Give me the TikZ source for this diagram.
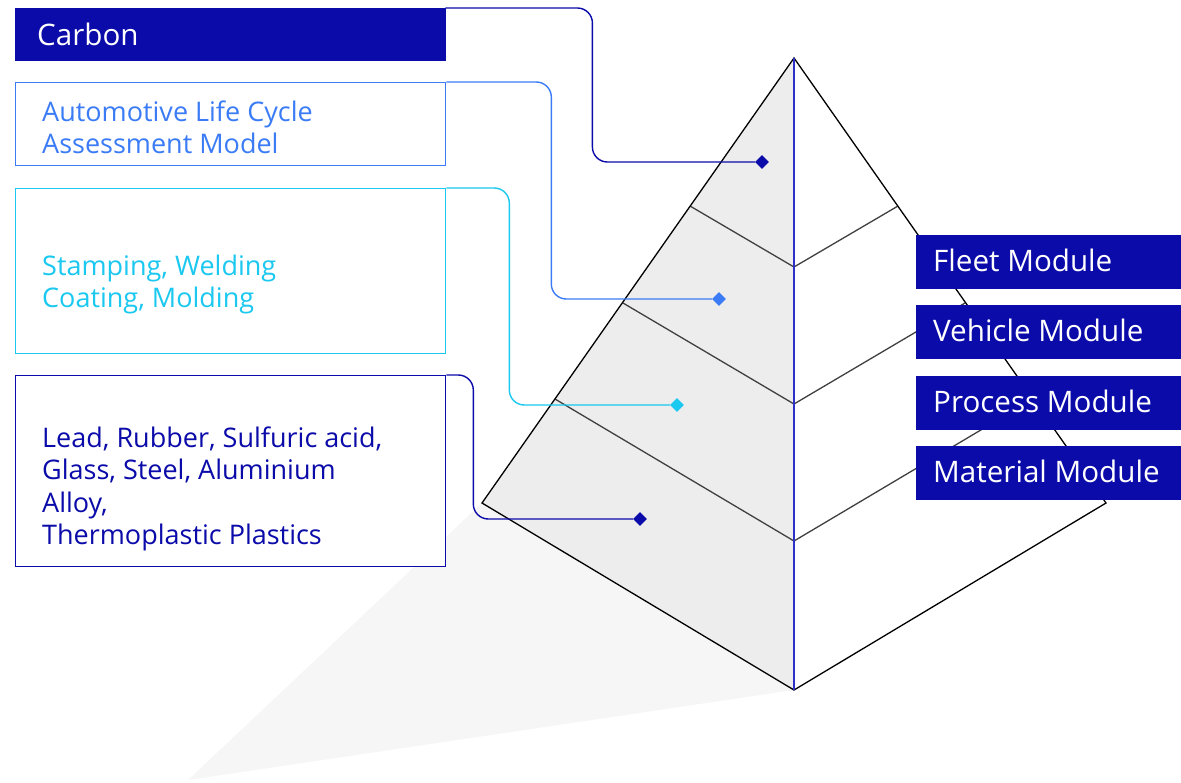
\documentclass[tikz,border=0pt]{standalone}
\usepackage{fontspec}
\setmainfont{Open Sans}
\usetikzlibrary{shapes.geometric}
\definecolor{dblue}{HTML}{0B0BAA}
\definecolor{mblue}{HTML}{3B7CF6}
\definecolor{cyanc}{HTML}{1AC8F0}
\definecolor{edgeblue}{HTML}{2E2EC8}
\definecolor{facegray}{HTML}{EDEDED}
\definecolor{shadowgray}{HTML}{F6F6F6}
\definecolor{layergray}{HTML}{404040}
\tikzset{
  box/.style={draw, line width=1.3pt, fill=white, minimum width=430, minimum height=#1, anchor=north west, inner sep=0},
  modbox/.style={fill=dblue, draw=dblue, minimum width=266, minimum height=53, anchor=north west, inner sep=0},
  bigtxt/.style={anchor=west, inner sep=0, align=left, font=\fontsize{29.6}{34}\selectfont},
  smalltxt/.style={anchor=west, inner sep=0, align=left, font=\fontsize{27}{32}\selectfont},
  dia/.style={diamond, fill=#1, minimum size=14, inner sep=0},
  conn/.style={line width=1.4pt, rounded corners=15},
  layer/.style={draw=layergray, line width=1.3pt},
}
\begin{document}
\begin{tikzpicture}[x=1pt,y=-1pt]
\useasboundingbox (0,0) rectangle (1181,782);
% pyramid points
\coordinate (apex) at (794,58);
\coordinate (lc) at (482,503);
\coordinate (rc) at (1106,503);
\coordinate (bot) at (794,690);
\coordinate (l1) at (690,206);
\coordinate (c1) at (794,267);
\coordinate (r1) at (898,206);
\coordinate (l2) at (623,303);
\coordinate (c2) at (794,404);
\coordinate (r2) at (965,303);
\coordinate (l3) at (555,399);
\coordinate (c3) at (794,541);
\coordinate (r3) at (1033,399);
\coordinate (sh) at (188,780);
% shadow
\fill[shadowgray] (sh) -- (lc) -- (bot) -- cycle;
% faces
\fill[facegray] (apex) -- (lc) -- (bot) -- cycle;
\fill[white] (apex) -- (rc) -- (bot) -- cycle;
% layer lines
\draw[layer] (l1) -- (c1) -- (r1);
\draw[layer] (l2) -- (c2) -- (r2);
\draw[layer] (l3) -- (c3) -- (r3);
% outline
\draw[black, line width=1.3pt, line join=miter] (apex) -- (lc) -- (bot) -- (rc) -- cycle;
\draw[edgeblue, line width=1.3pt] (apex) -- (bot);
% left boxes
\node[modbox, minimum width=430, minimum height=52] (b1) at (15,8) {};
\node[box, draw=mblue, minimum height=83] (b2) at (15,82) {};
\node[box, draw=cyanc, minimum height=165] (b3) at (15,188) {};
\node[box, draw=dblue, minimum height=191] (b4) at (15,375) {};
\node[bigtxt, text=white] (t1) at (37,34) {Carbon};
\node[smalltxt, text=mblue] (t2) at (42,127) {Automotive Life Cycle\\Assessment Model};
\node[smalltxt, text=cyanc] (t3) at (42,284) {Stamping, Welding\\Coating, Molding};
\node[smalltxt, text=dblue, font=\fontsize{27}{32.3}\selectfont] (t4) at (42,489) {Lead, Rubber, Sulfuric acid,\\Glass, Steel, Aluminium\\Alloy,\\Thermoplastic Plastics};
% diamonds
\node[dia=dblue] (d1) at (762,162) {};
\node[dia=mblue] (d2) at (719,299) {};
\node[dia=cyanc] (d3) at (677,405) {};
\node[dia=dblue] (d4) at (640,519) {};
% connectors
\draw[conn, dblue] (b1.north east) -- ++(147,0) |- (d1);
\draw[conn, mblue] (b2.north east) -- ++(105,0) |- (d2);
\draw[conn, cyanc] (b3.north east) -- ++(63,0) |- (d3);
\draw[conn, dblue] (b4.north east) -- ++(27,0) |- (d4);
% module labels
\node[modbox] (m1) at (916,235) {};
\node[modbox] (m2) at (916,305) {};
\node[modbox] (m3) at (916,376) {};
\node[modbox] (m4) at (916,446) {};
\node[bigtxt, text=white] (mt1) at (933,260) {Fleet Module};
\node[bigtxt, text=white] (mt2) at (933,330) {Vehicle Module};
\node[bigtxt, text=white] (mt3) at (933,401) {Process Module};
\node[bigtxt, text=white] (mt4) at (933,471) {Material Module};
\end{tikzpicture}
\end{document}
